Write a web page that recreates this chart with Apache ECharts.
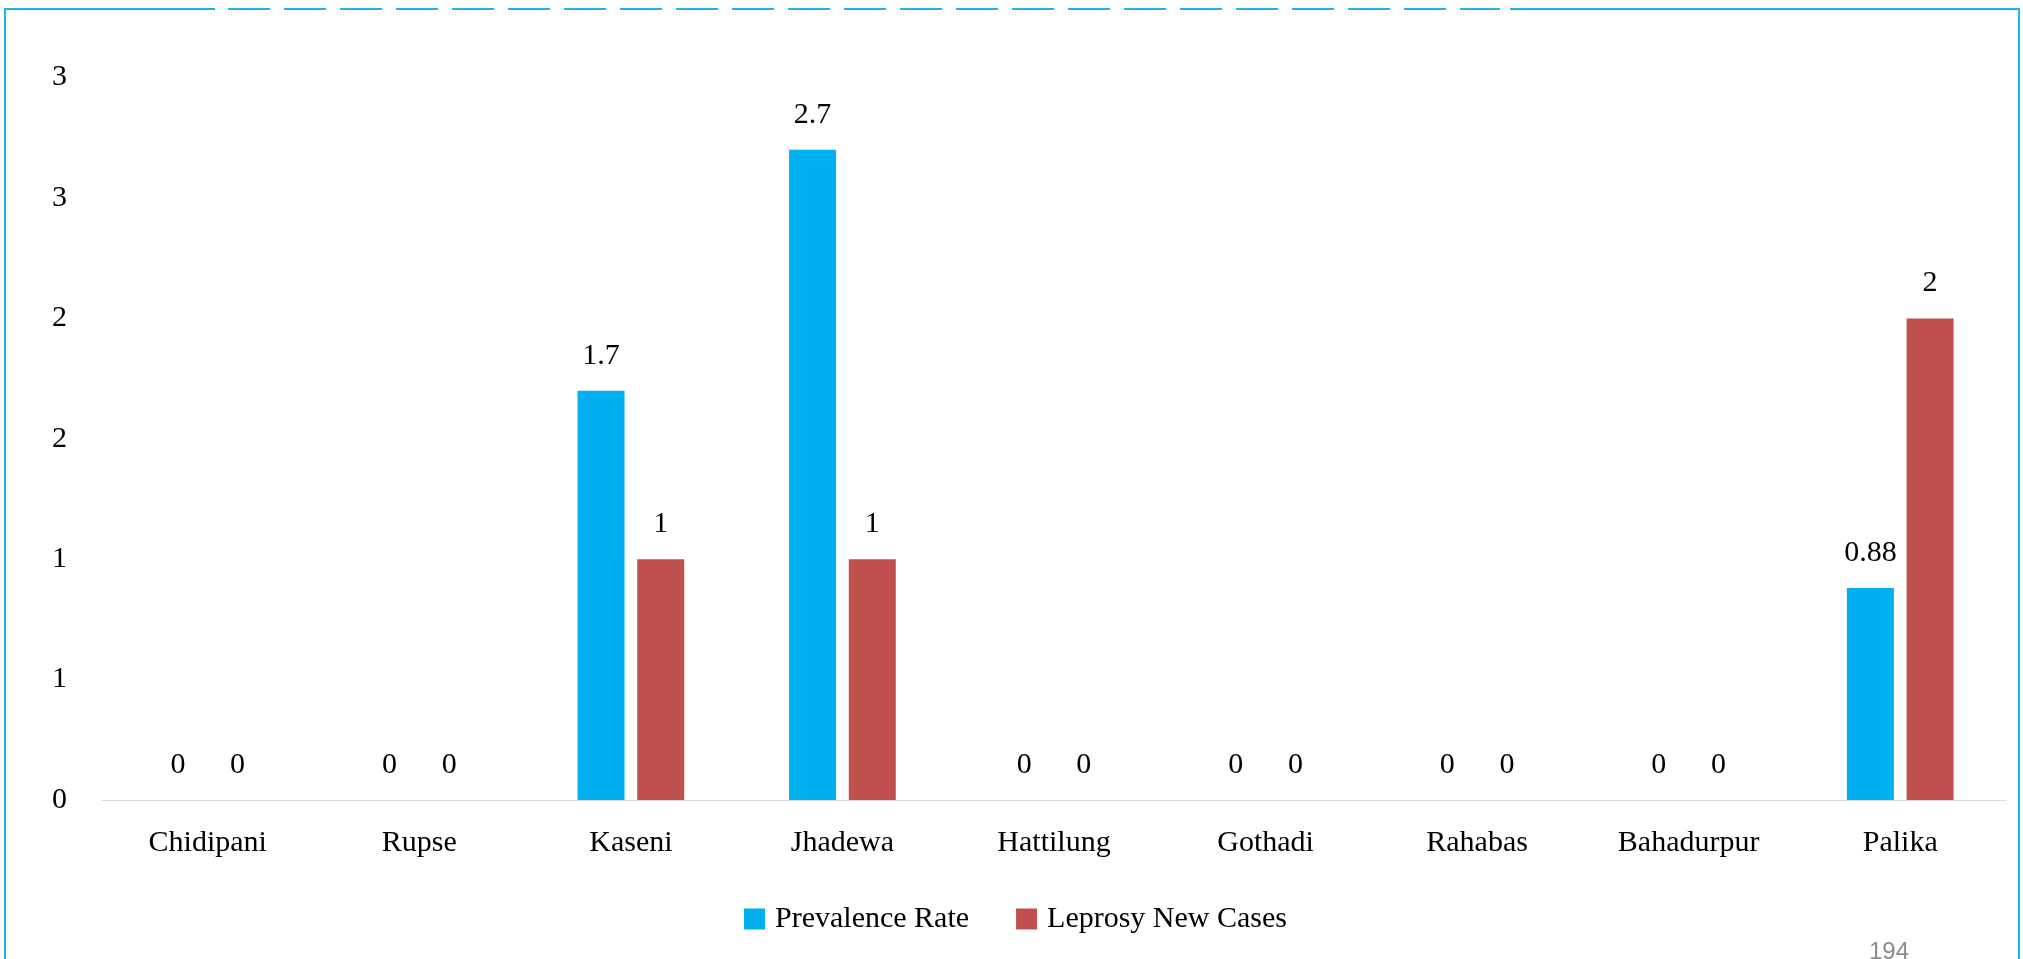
<!DOCTYPE html>
<html>
<head>
<meta charset="utf-8">
<script src="https://cdn.jsdelivr.net/npm/echarts@6/dist/echarts.min.js"></script>
<style>
html,body{margin:0;padding:0;background:#fff;}
#chart{width:2023px;height:959px;}
</style>
</head>
<body>
<div id="chart"></div>
<script>
const categories = ['Chidipani','Rupse','Kaseni','Jhadewa','Hattilung','Gothadi','Rahabas','Bahadurpur','Palika'];
const prevalenceRate = [0, 0, 1.7, 2.7, 0, 0, 0, 0, 0.88];
const leprosyNewCases = [0, 0, 1, 1, 0, 0, 0, 0, 2];
const yTickLabels = ['0','1','1','2','2','3','3'];
const seriesNames = ['Prevalence Rate','Leprosy New Cases'];
const pageNumber = '194';

const chart = echarts.init(document.getElementById('chart'));
const serif = '"Liberation Serif", "Times New Roman", serif';
const borderColor = '#1AB4EA';

const labelStyle = {
  show: true,
  position: 'top',
  distance: 20,
  fontFamily: serif,
  fontSize: 30,
  color: '#000'
};

chart.setOption({
  animation: false,
  backgroundColor: '#fff',
  textStyle: { fontFamily: serif },
  grid: { left: 102, right: 17, top: 77.6, bottom: 159, containLabel: false },
  legend: {
    left: 739,
    top: 899,
    itemWidth: 21,
    itemHeight: 21,
    itemGap: 47,
    icon: 'rect',
    textStyle: { fontFamily: serif, fontSize: 30, color: '#000', padding: [0,0,0,5] },
    data: seriesNames
  },
  xAxis: {
    type: 'category',
    data: categories,
    axisLine: { show: true, lineStyle: { color: '#D9D9D9', width: 1 } },
    axisTick: { show: false },
    axisLabel: { fontFamily: serif, fontSize: 30, color: '#000', margin: 28, interval: 0 },
    splitLine: { show: false }
  },
  yAxis: {
    type: 'value',
    min: 0,
    max: 3,
    interval: 0.5,
    axisLine: { show: false },
    axisTick: { show: false },
    splitLine: { show: false },
    axisLabel: {
      fontFamily: serif, fontSize: 30, color: '#000', margin: 35,
      padding: [0, 0, 12, 0],
      formatter: function (v) { return yTickLabels[Math.round(v / 0.5)]; }
    }
  },
  series: [
    {
      name: seriesNames[0], type: 'bar', data: prevalenceRate,
      barWidth: 47, barGap: '27%',
      itemStyle: { color: '#00B0F0' },
      label: labelStyle
    },
    {
      name: seriesNames[1], type: 'bar', data: leprosyNewCases,
      barWidth: 47, barGap: '27%',
      itemStyle: { color: '#C0504D' },
      label: labelStyle
    }
  ],
  graphic: [
    { type: 'line', shape: { x1: 5, y1: 9, x2: 5, y2: 959 }, style: { stroke: borderColor, lineWidth: 2 } },
    { type: 'line', shape: { x1: 2019, y1: 9, x2: 2019, y2: 959 }, style: { stroke: borderColor, lineWidth: 2 } },
    { type: 'line', shape: { x1: 4, y1: 9, x2: 215, y2: 9 }, style: { stroke: borderColor, lineWidth: 2 } },
    { type: 'line', shape: { x1: 228, y1: 9, x2: 1500, y2: 9 }, style: { stroke: borderColor, lineWidth: 2, lineDash: [42, 14] } },
    { type: 'line', shape: { x1: 1510, y1: 9, x2: 2020, y2: 9 }, style: { stroke: borderColor, lineWidth: 2 } },
    { type: 'text', left: 1869, top: 940, style: { text: pageNumber, fontFamily: '"Liberation Sans", Arial, sans-serif', fontSize: 24, fill: '#8C8C8C' } }
  ]
});
</script>
</body>
</html>
